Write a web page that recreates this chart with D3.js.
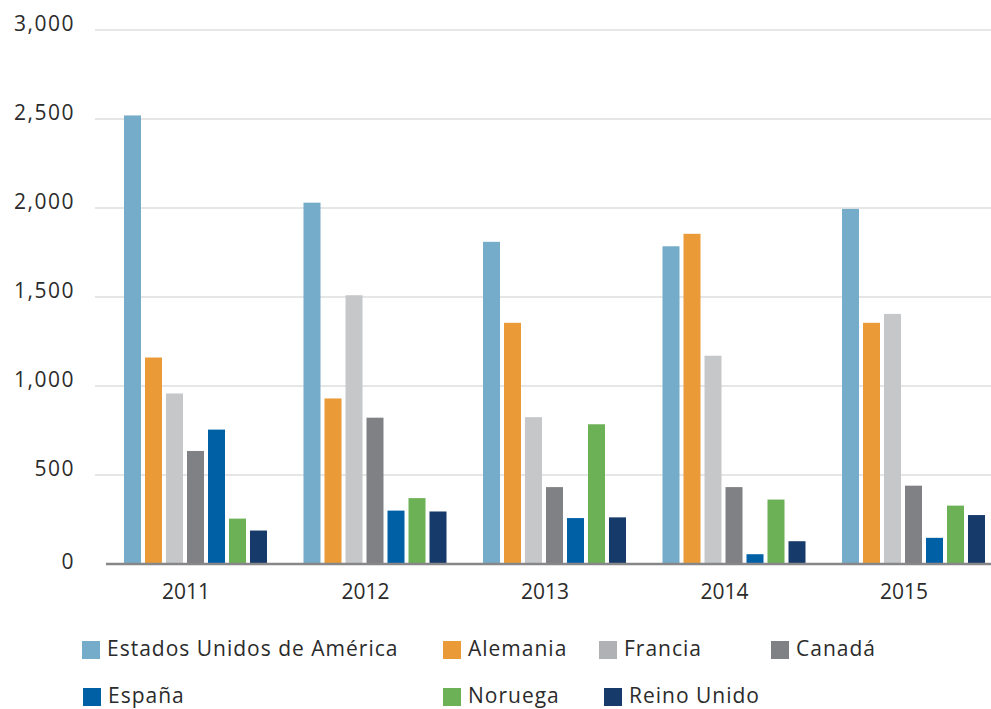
<!DOCTYPE html>
<html>
<head>
<meta charset="utf-8">
<script src="https://cdn.jsdelivr.net/npm/d3@7"></script>
<style>
  body { margin: 0; background: #fff; }
  svg { display: block; font-family: "Open Sans", sans-serif; }
</style>
</head>
<body>
<svg></svg>
<script>
//data
const years = ["2011", "2012", "2013", "2014", "2015"];
const countries = ["Estados Unidos de América", "Alemania", "Francia", "Canadá", "España", "Noruega", "Reino Unido"];
const usa      = [2520, 2030, 1810, 1785, 1995];
const alemania = [1160, 930, 1355, 1855, 1355];
const francia  = [958, 1510, 825, 1170, 1405];
const canada   = [635, 822, 432, 432, 440];
const espana   = [755, 300, 258, 55, 147];
const noruega  = [255, 370, 785, 362, 328];
const reino    = [188, 295, 262, 128, 275];
const yTicks = [0, 500, 1000, 1500, 2000, 2500, 3000];

const series = [usa, alemania, francia, canada, espana, noruega, reino];
const table = years.map((y, i) => ({year: y, values: countries.map((c, j) => ({country: c, value: series[j][i]}))}));

//constants
const width = 991, height = 709;
const colors = ["#74acc9", "#ea9a36", "#c6c7c9", "#808185", "#0060a6", "#6cb155", "#163a69"];
const swatchColors = ["#74acc9", "#ea9a36", "#b0b1b4", "#808185", "#0060a6", "#6cb155", "#163a69"];
const textColor = "#2b2b2b";

//scales
const x = d3.scaleBand()
    .domain(years)
    .range([96.25, 993.75])
    .padding(0);

const xInner = d3.scaleBand()
    .domain(countries)
    .range([27.75, 170.75])
    .paddingInner(4 / 21)
    .paddingOuter(0);

const y = d3.scaleLinear()
    .domain([0, 3000])
    .range([564, 30]);

const color = d3.scaleOrdinal().domain(countries).range(colors);
const swatch = d3.scaleOrdinal().domain(countries).range(swatchColors);

//canvas
const svg = d3.select("svg")
    .attr("width", width)
    .attr("height", height);

//grid
svg.append("g")
    .selectAll("line")
    .data(yTicks.filter(d => d > 0))
    .enter()
    .append("line")
    .attr("x1", 95)
    .attr("x2", width)
    .attr("y1", d => y(d))
    .attr("y2", d => y(d))
    .attr("stroke", "#e6e6e6")
    .attr("stroke-width", 2);

//y labels
svg.append("g")
    .selectAll("text")
    .data(yTicks)
    .enter()
    .append("text")
    .attr("x", 75)
    .attr("y", d => d === 0 ? y(d) + 5 : y(d) + 1)
    .attr("text-anchor", "end")
    .style("font-size", "21px")
    .style("letter-spacing", "1.5px")
    .style("fill", textColor)
    .text(d => d3.format(",")(d));

//bars
const groups = svg.append("g")
    .selectAll("g")
    .data(table)
    .enter()
    .append("g")
    .attr("transform", d => "translate(" + x(d.year) + ",0)");

groups.selectAll("rect")
    .data(d => d.values)
    .enter()
    .append("rect")
    .attr("x", d => xInner(d.country))
    .attr("width", xInner.bandwidth())
    .attr("y", d => y(d.value))
    .attr("height", d => y(0) - y(d.value))
    .style("fill", d => color(d.country));

//baseline
svg.append("line")
    .attr("x1", 106)
    .attr("x2", width)
    .attr("y1", y(0))
    .attr("y2", y(0))
    .attr("stroke", "#87878a")
    .attr("stroke-width", 2.5);

//x labels
svg.append("g")
    .selectAll("text")
    .data(years)
    .enter()
    .append("text")
    .attr("x", d => x(d) + x.bandwidth() / 2)
    .attr("y", 599)
    .attr("text-anchor", "middle")
    .style("font-size", "21px")
    .style("fill", textColor)
    .text(d => d);

//legend
const legendPos = [[82, 650], [443, 650], [599, 650], [771, 650], [83, 697], [443, 697], [604, 697]];

const legend = svg.append("g")
    .selectAll("g")
    .data(countries)
    .enter()
    .append("g")
    .attr("transform", (d, i) => "translate(" + legendPos[i][0] + "," + legendPos[i][1] + ")");

legend.append("rect")
    .attr("x", 0)
    .attr("y", -9)
    .attr("width", 18)
    .attr("height", 18)
    .style("fill", d => swatch(d));

legend.append("text")
    .attr("x", 25)
    .attr("y", 6)
    .style("font-size", "21px")
    .style("letter-spacing", "1px")
    .style("fill", textColor)
    .text(d => d);
</script>
</body>
</html>
